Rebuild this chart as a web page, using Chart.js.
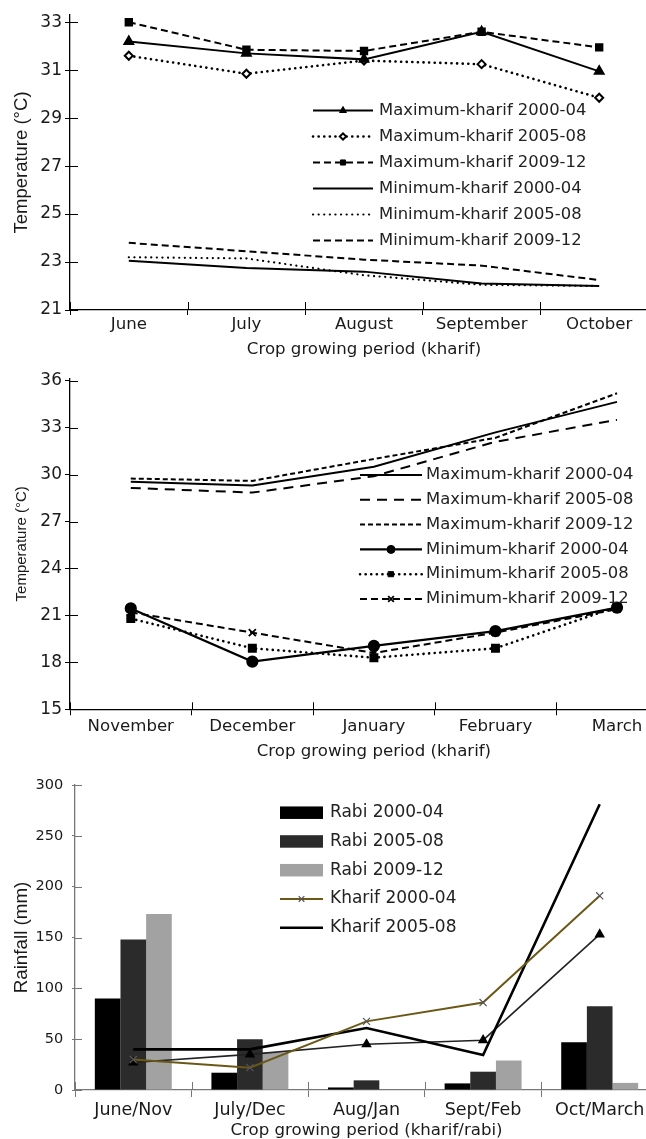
<!DOCTYPE html>
<html>
<head>
<meta charset="utf-8">
<script src="https://cdn.jsdelivr.net/npm/chart.js@4"></script>
<style>
html, body { margin: 0; padding: 0; background: #fff; overflow: hidden; width: 646px; height: 1139px; }
canvas { position: absolute; left: 0; }
#tempKharif { top: 0; }
#tempRabi { top: 360px; }
#rainfall { top: 760px; }
</style>
</head>
<body>
<canvas id="tempKharif" width="665" height="362"></canvas>
<canvas id="tempRabi" width="685" height="404"></canvas>
<canvas id="rainfall" width="665" height="382"></canvas>
<script>
// --- data ---
const kharifMonths = ["June", "July", "August", "September", "October"];
const maxKharif2000 = [32.2, 31.7, 31.45, 32.6, 30.95];
const maxKharif2005 = [31.6, 30.85, 31.4, 31.25, 29.85];
const maxKharif2009 = [33.0, 31.85, 31.8, 32.6, 31.95];
const minKharif2000 = [23.05, 22.75, 22.6, 22.1, 22.0];
const minKharif2005 = [23.2, 23.15, 22.45, 22.05, 22.0];
const minKharif2009 = [23.8, 23.45, 23.1, 22.85, 22.25];
const kharifTicks = [21, 23, 25, 27, 29, 31, 33];

const rabiMonths = ["November", "December", "January", "February", "March"];
const maxRabi2000 = [29.55, 29.3, 30.5, 32.7, 34.65];
const maxRabi2005 = [29.15, 28.85, 29.9, 32.1, 33.5];
const maxRabi2009 = [29.75, 29.6, 31.0, 32.35, 35.2];
const minRabi2000 = [21.45, 18.05, 19.05, 20.0, 21.5];
const minRabi2005 = [20.8, 18.9, 18.3, 18.9, 21.55];
const minRabi2009 = [21.2, 19.9, 18.6, 19.9, 21.4];
const rabiTicks = [15, 18, 21, 24, 27, 30, 33, 36];

const periods = ["June/Nov", "July/Dec", "Aug/Jan", "Sept/Feb", "Oct/March"];
const rainRabi2000 = [90, 17, 2.5, 6.5, 47];
const rainRabi2005 = [148, 50, 9.5, 18, 82.5];
const rainRabi2009 = [173, 37, 0, 29, 7];
const rainKharif2000 = [30, 22, 67.5, 86, 191];
const rainKharif2005 = [40, 40, 61, 34.5, 281];
const rainKharif2009 = [27, 35, 45, 49, 153];
const rainTicks = [0, 50, 100, 150, 200, 250, 300];

Chart.defaults.font.family = "'DejaVu Sans', sans-serif";
Chart.defaults.color = "#1a1a1a";
Chart.defaults.animation = false;

const DOTS = [0.1, 5.5];

function drawMarker(ctx, ds, x, y, r) {
    ctx.setLineDash([]);
    ctx.fillStyle = ds.pointBackgroundColor || "#000";
    ctx.strokeStyle = ds.pointBorderColor || "#000";
    ctx.lineWidth = ds.pointBorderWidth || 1;
    Chart.helpers.drawPoint(ctx, { pointStyle: ds.pointStyle, radius: r, rotation: 0, borderWidth: ctx.lineWidth }, x, y);
}

// ticks that cross the axis lines (Chart.js only draws the outer half)
const innerTicks = {
    id: "innerTicks",
    beforeDatasetsDraw(chart, args, o) {
        const ctx = chart.ctx, xs = chart.scales.x, ys = chart.scales.y;
        ctx.save();
        ctx.strokeStyle = o.color;
        ctx.lineWidth = 1;
        ctx.beginPath();
        ys.ticks.forEach((t, i) => {
            const py = Math.round(ys.getPixelForTick(i)) + 0.5;
            ctx.moveTo(ys.right, py);
            ctx.lineTo(ys.right + o.yIn, py);
        });
        for (let i = 0; i <= xs.ticks.length; i++) {
            const px = Math.round(xs.getPixelForValue(i - 0.5)) + 0.5;
            ctx.moveTo(px, xs.top);
            ctx.lineTo(px, xs.top - o.xIn);
        }
        ctx.stroke();
        ctx.restore();
    },
};

// legend drawn inside the plot, one entry per row
const sideLegend = {
    id: "sideLegend",
    afterDraw(chart, args, o) {
        const ctx = chart.ctx;
        ctx.save();
        ctx.font = o.font;
        ctx.textBaseline = "middle";
        let row = 0;
        chart.data.datasets.forEach((ds) => {
            if (ds.noLegend) return;
            const cy = o.y + row * o.rowH;
            row++;
            if (ds.type === "bar") {
                ctx.fillStyle = ds.backgroundColor;
                ctx.fillRect(o.x, cy - o.boxH / 2, o.sample, o.boxH);
            } else {
                ctx.setLineDash(ds.borderDash || []);
                ctx.lineCap = ds.borderCapStyle || "butt";
                ctx.lineWidth = ds.borderWidth;
                ctx.strokeStyle = ds.borderColor;
                ctx.beginPath();
                ctx.moveTo(o.x, cy);
                ctx.lineTo(o.x + o.sample, cy);
                ctx.stroke();
                if (ds.pointRadius > 0) drawMarker(ctx, ds, o.x + o.sample / 2, cy, ds.pointRadius * 0.8);
            }
            ctx.setLineDash([]);
            ctx.fillStyle = "#222";
            ctx.fillText(ds.label, o.x + o.sample + o.gap, cy);
        });
        ctx.restore();
    },
};

function line(label, data, opts) {
    return Object.assign({
        type: "line", label: label, data: data,
        borderColor: "#000", borderWidth: 2, borderDash: [],
        pointRadius: 0, pointStyle: "circle",
        pointBackgroundColor: "#000", pointBorderColor: "#000",
        tension: 0, fill: false,
    }, opts);
}

function scales(c) {
    return {
        x: {
            offset: true,
            grid: { offset: true, drawOnChartArea: false, tickLength: c.xOut, color: c.axisColor },
            border: { color: c.axisColor, width: 1.3 },
            ticks: { padding: c.xPad, font: { size: c.xFont }, maxRotation: 0, autoSkip: false },
            title: { display: true, text: c.xTitle, font: { size: 16.6 }, padding: { top: 0, bottom: c.titlePad } },
            afterFit: (s) => { s.height = c.height - c.bottom; },
        },
        y: {
            min: c.min, max: c.max,
            afterBuildTicks: (s) => { s.ticks = c.ticks.map((v) => ({ value: v })); },
            grid: { drawOnChartArea: false, tickLength: c.yOut, color: c.axisColor },
            border: { color: c.axisColor, width: 1.3 },
            ticks: { padding: c.yPad, font: { size: c.yFont } },
            title: { display: true, text: c.yTitle, font: { family: "'Liberation Sans', Arial, sans-serif", size: c.yTitleSize }, padding: { top: c.yTitlePad, bottom: 0 } },
            afterFit: (s) => { s.width = c.left; },
        },
    };
}

// ---- chart 1: kharif temperature ----
new Chart(document.getElementById("tempKharif"), {
    type: "line",
    data: {
        labels: kharifMonths,
        datasets: [
            line("Maximum-kharif 2000-04", maxKharif2000, { pointRadius: 5, pointStyle: "triangle" }),
            line("Maximum-kharif 2005-08", maxKharif2005, { borderWidth: 2.6, borderDash: DOTS, borderCapStyle: "round", pointRadius: 4, pointStyle: "rectRot", pointBackgroundColor: "#fff", pointBorderWidth: 2 }),
            line("Maximum-kharif 2009-12", maxKharif2009, { borderDash: [7, 4], pointRadius: 4.5, pointStyle: "rect" }),
            line("Minimum-kharif 2000-04", minKharif2000, {}),
            line("Minimum-kharif 2005-08", minKharif2005, { borderWidth: 2.2, borderDash: DOTS, borderCapStyle: "round" }),
            line("Minimum-kharif 2009-12", minKharif2009, { borderDash: [7, 4] }),
        ],
    },
    options: {
        responsive: false,
        layout: { padding: { top: 15, right: 5, left: 0, bottom: 0 } },
        plugins: {
            legend: { display: false }, tooltip: { enabled: false },
            innerTicks: { color: "#000", yIn: 8, xIn: 8 },
            sideLegend: { x: 313, y: 110.5, rowH: 26, sample: 60, gap: 6, boxH: 12, font: "16.4px 'DejaVu Sans'" },
        },
        scales: scales({ height: 362, bottom: 310, left: 70, min: 21, max: 33.3, ticks: kharifTicks,
            axisColor: "#000", xOut: 5, xPad: 0, xFont: 16.6, yOut: 5, yPad: 3, yFont: 17, titlePad: 2,
            xTitle: "Crop growing period (kharif)", yTitle: "Temperature (°C)", yTitleSize: 18.5, yTitlePad: 11 }),
    },
    plugins: [innerTicks, sideLegend],
});

// ---- chart 2: rabi temperature ----
new Chart(document.getElementById("tempRabi"), {
    type: "line",
    data: {
        labels: rabiMonths,
        datasets: [
            line("Maximum-kharif 2000-04", maxRabi2000, {}),
            line("Maximum-kharif 2005-08", maxRabi2005, { borderDash: [10, 7] }),
            line("Maximum-kharif 2009-12", maxRabi2009, { borderDash: [5, 3] }),
            line("Minimum-kharif 2000-04", minRabi2000, { borderWidth: 2.2, pointRadius: 5 }),
            line("Minimum-kharif 2005-08", minRabi2005, { borderWidth: 2.6, borderDash: DOTS, borderCapStyle: "round", pointRadius: 4.5, pointStyle: "rect" }),
            line("Minimum-kharif 2009-12", minRabi2009, { borderDash: [7, 4], pointRadius: 5, pointStyle: "crossRot", pointBorderWidth: 1.8 }),
        ],
    },
    options: {
        responsive: false,
        layout: { padding: { top: 18.4, right: 5, left: 0, bottom: 0 } },
        plugins: {
            legend: { display: false }, tooltip: { enabled: false },
            innerTicks: { color: "#000", yIn: 8, xIn: 7 },
            sideLegend: { x: 360, y: 115, rowH: 24.8, sample: 62, gap: 4, boxH: 12, font: "16.4px 'DejaVu Sans'" },
        },
        scales: scales({ height: 404, bottom: 349.3, left: 70, min: 15, max: 36.15, ticks: rabiTicks,
            axisColor: "#000", xOut: 6, xPad: 1, xFont: 16.6, yOut: 5, yPad: 3, yFont: 17, titlePad: 2,
            xTitle: "Crop growing period (kharif)", yTitle: "Temperature (°C)", yTitleSize: 15, yTitlePad: 12.7 }),
    },
    plugins: [innerTicks, sideLegend],
});

// ---- chart 3: rainfall ----
new Chart(document.getElementById("rainfall"), {
    type: "bar",
    data: {
        labels: periods,
        datasets: [
            { type: "bar", label: "Rabi 2000-04", data: rainRabi2000, backgroundColor: "#000", order: 3 },
            { type: "bar", label: "Rabi 2005-08", data: rainRabi2005, backgroundColor: "#2b2b2b", order: 3 },
            { type: "bar", label: "Rabi 2009-12", data: rainRabi2009, backgroundColor: "#a2a2a2", order: 3 },
            line("Kharif 2000-04", rainKharif2000, { borderColor: "#6b5816", borderWidth: 2, pointRadius: 5, pointStyle: "crossRot", pointBorderColor: "#555", pointBorderWidth: 1.2, order: 1 }),
            line("Kharif 2005-08", rainKharif2005, { borderWidth: 2.6, order: 1 }),
            line("Kharif 2009-12", rainKharif2009, { borderColor: "#222", borderWidth: 1.6, pointRadius: 4.5, pointStyle: "triangle", order: 1, noLegend: true }),
        ],
    },
    options: {
        responsive: false,
        layout: { padding: { top: 25, right: 7, left: 0, bottom: 0 } },
        datasets: { bar: { barPercentage: 1, categoryPercentage: 0.66 } },
        plugins: {
            legend: { display: false }, tooltip: { enabled: false },
            innerTicks: { color: "#777", yIn: 7, xIn: 8 },
            sideLegend: { x: 280, y: 52.7, rowH: 28.75, sample: 43, gap: 7, boxH: 12.5, font: "17px 'DejaVu Sans'" },
        },
        scales: scales({ height: 382, bottom: 330, left: 75, min: 0, max: 300, ticks: rainTicks,
            axisColor: "#777", xOut: 7, xPad: 2.5, xFont: 17.5, yOut: 3, yPad: 8.7, yFont: 14.5, titlePad: 1,
            xTitle: "Crop growing period (kharif/rabi)", yTitle: "Rainfall (mm)", yTitleSize: 18.8, yTitlePad: 10.4 }),
    },
    plugins: [innerTicks, sideLegend],
});
</script>
</body>
</html>
